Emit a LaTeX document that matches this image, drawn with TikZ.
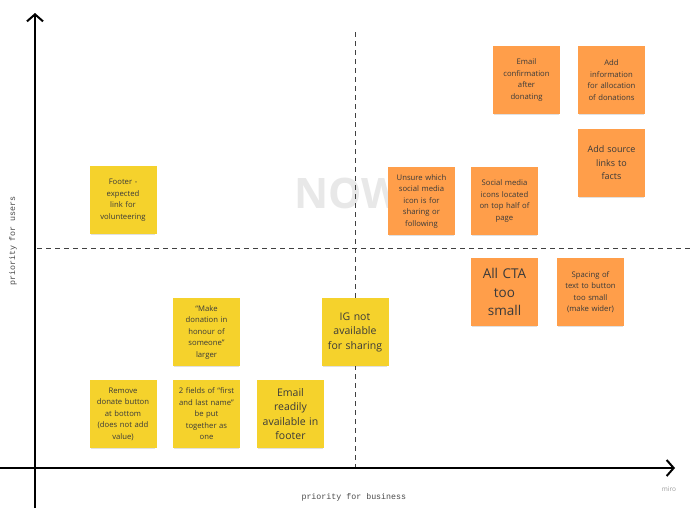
\documentclass[tikz,border=0pt]{standalone}
\usepackage{fontspec}
\setmainfont{Open Sans}
\setmonofont{Liberation Mono}
\usetikzlibrary{arrows.meta,shadows}
\definecolor{stor}{HTML}{FF9E4A}
\definecolor{styl}{HTML}{F5D22C}
\definecolor{notetext}{HTML}{3A3A3A}
\definecolor{nowgray}{HTML}{E8E8E8}
\begin{document}
\begin{tikzpicture}[x=1pt,y=-1pt,
  note/.style={minimum width=67pt, minimum height=68pt, text width=64pt,
    align=center, inner sep=0pt, text=notetext,
    general shadow={shadow yshift=-4pt, shadow scale=0.9, fill=black, opacity=0.14},
    general shadow={shadow yshift=-2pt, shadow scale=0.96, fill=black, opacity=0.12}},
  onote/.style={note, fill=stor},
  ynote/.style={note, fill=styl},
  fs/.style={font=\fontsize{7.7}{11.5}\selectfont},
  fm/.style={font=\fontsize{9}{13.5}\selectfont},
  fl/.style={font=\fontsize{10.5}{14.5}\selectfont},
  fxl/.style={font=\fontsize{13.5}{18.5}\selectfont},
  axis/.style={line width=2pt, -{Straight Barb[length=7pt,width=16pt,line width=2pt]}},
  quad/.style={dashed, dash pattern=on 5pt off 4pt, line width=0.9pt, draw=black!75},
  lbl/.style={font=\ttfamily\fontsize{8.3}{10}\selectfont, text=black!70}]
\useasboundingbox (0,0) rectangle (691,509);
\fill[white] (0,0) rectangle (691,509);

% watermark
\node[font=\fontsize{42}{42}\selectfont\bfseries, text=nowgray] (now) at (348,193) {NOW};

% quadrant lines
\coordinate (hl) at (37,248);
\coordinate (hr) at (691,248);
\coordinate (vt) at (355,32);
\coordinate (vb) at (355,468);
\draw[quad] (hl) -- (hr);
\draw[quad] (vt) -- (vb);

% axes
\coordinate (yb) at (35,508);
\coordinate (yt) at (35,13);
\coordinate (xl) at (0,468);
\coordinate (xr) at (675,468);
\draw[axis] (yb) -- (yt);
\draw[axis] (xl) -- (xr);

% axis labels
\node[lbl, rotate=90] (ylab) at (13,241) {priority for users};
\node[lbl, anchor=west] (xlab) at (298,497) {priority for business};
\node[font=\fontsize{6.5}{8}\selectfont, text=black!40] (miro) at (669,489) {miro};

% orange notes
\node[onote, fs] (n1) at (526.5,80) {Email\\confirmation\\after\\donating};
\node[onote, fs] (n2) at (611.5,80) {Add\\information\\for allocation\\of donations};
\node[onote, fm] (n3) at (611.5,163) {Add source\\links to\\facts};
\node[onote, fs] (n4) at (421.5,201) {Unsure which\\social media\\icon is for\\sharing or\\following};
\node[onote, fs] (n5) at (504.5,201) {Social media\\icons located\\on top half of\\page};
\node[onote, fxl] (n6) at (504.5,292) {All CTA\\too\\small};
\node[onote, fs] (n7) at (590.5,292) {Spacing of\\text to button\\too small\\(make wider)};

% yellow notes
\node[ynote, fs] (y1) at (123,200) {Footer -\\expected\\link for\\volunteering};
\node[ynote, fs] (y2) at (206.5,332) {``Make\\donation in\\honour of\\someone''\\larger};
\node[ynote, fl] (y3) at (355,332) {IG not\\available\\for sharing};
\node[ynote, fs] (y4) at (123,414) {Remove\\donate button\\at bottom\\(does not add\\value)};
\node[ynote, fs] (y5) at (206.5,414) {2 fields of ``first\\and last name''\\be put\\together as\\one};
\node[ynote, fl] (y6) at (290.5,414) {Email\\readily\\available in\\footer};
\end{tikzpicture}
\end{document}
